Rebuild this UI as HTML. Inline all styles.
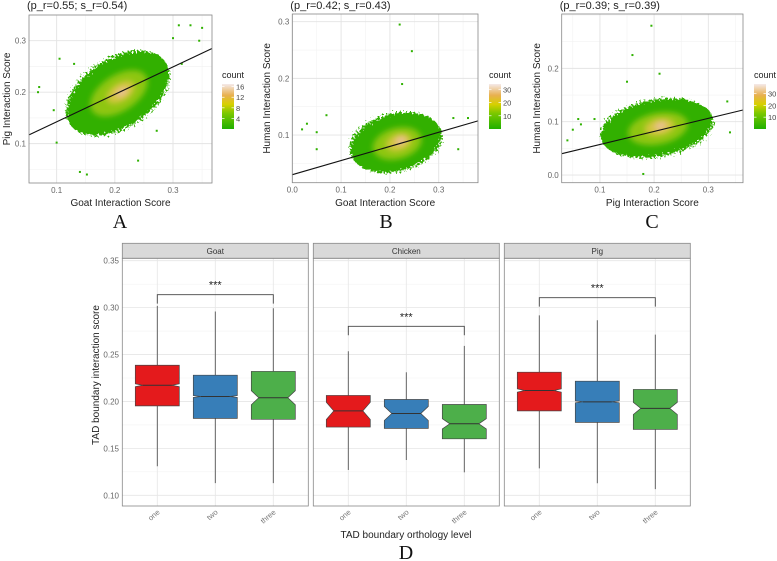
<!DOCTYPE html>
<html><head><meta charset="utf-8"><style>
body{margin:0;background:#fff;}
svg{display:block;font-family:"Liberation Sans",sans-serif;}
</style></head><body>
<svg id="fig" width="777" height="561" viewBox="0 0 777 561" xmlns="http://www.w3.org/2000/svg"></svg>
<script>
// ---------- scatter data ----------
const scatterTitles = ["(p_r=0.55; s_r=0.54)","(p_r=0.42; s_r=0.43)","(p_r=0.39; s_r=0.39)"];
const scatterXLabels = ["Goat Interaction Score","Goat Interaction Score","Pig Interaction Score"];
const scatterYLabels = ["Pig Interaction Score","Human Interaction Score","Human Interaction Score"];
const panelLetters = ["A","B","C"];
const xTicksA = [0.1,0.2,0.3], yTicksA = [0.1,0.2,0.3];
const xTicksB = [0.0,0.1,0.2,0.3], yTicksB = [0.1,0.2,0.3];
const xTicksC = [0.1,0.2,0.3], yTicksC = [0.0,0.1,0.2];
const legendTicksA = [4,8,12,16], legendTicksB = [10,20,30], legendTicksC = [10,20,30];
// density layers: center x, center y, major vector (dx,dy), minor vector (dx,dy)
const cloudA = [[0.205,0.198,0.08,0.064,-0.038,0.052],[0.207,0.198,0.045,0.036,-0.02,0.027],[0.21,0.2,0.022,0.018,-0.01,0.013],[0.212,0.2,0.01,0.008,-0.005,0.006]];
const cloudB = [[0.212,0.087,0.094,0.012,0,0.052],[0.215,0.085,0.05,0.007,0,0.028],[0.218,0.087,0.026,0.004,0,0.015],[0.222,0.09,0.012,0.002,0,0.008]];
const cloudC = [[0.205,0.088,0.104,0.014,0,0.054],[0.207,0.087,0.055,0.008,0,0.03],[0.21,0.09,0.028,0.004,0,0.016],[0.212,0.092,0.012,0.002,0,0.008]];
const outX_A = [0.07,0.068,0.095,0.1,0.105,0.13,0.14,0.152,0.24,0.272,0.31,0.315,0.33,0.35,0.345,0.3];
const outY_A = [0.21,0.2,0.165,0.102,0.265,0.255,0.045,0.04,0.067,0.125,0.33,0.255,0.33,0.325,0.3,0.305];
const outX_B = [0.02,0.03,0.05,0.07,0.05,0.22,0.245,0.225,0.36,0.34,0.33];
const outY_B = [0.11,0.12,0.075,0.135,0.105,0.295,0.248,0.19,0.13,0.075,0.13];
const outX_C = [0.04,0.05,0.06,0.065,0.09,0.195,0.16,0.15,0.21,0.335,0.34,0.18];
const outY_C = [0.065,0.085,0.105,0.095,0.105,0.28,0.225,0.175,0.19,0.138,0.08,0.002];
const lineA = [0.0525,0.117,0.367,0.285];
const lineB = [0.0,0.03,0.3805,0.125];
const lineC = [0.0295,0.04,0.364,0.122];

// ---------- boxplot data ----------
const facets = ["Goat","Chicken","Pig"];
const levels = ["one","two","three"];
const boxColors = ["#e41a1c","#377eb8","#4daf4a"];
const boxLow  = [[0.131,0.113,0.113],[0.127,0.1376,0.1245],[0.1287,0.1128,0.1066]];
const boxQ1   = [[0.1953,0.182,0.181],[0.1727,0.1713,0.1602],[0.19,0.1777,0.1702]];
const boxMed  = [[0.2173,0.2053,0.204],[0.19,0.1872,0.1762],[0.2117,0.1996,0.1926]];
const boxQ3   = [[0.2386,0.228,0.232],[0.2064,0.2021,0.1968],[0.2312,0.2216,0.2128]];
const boxHigh = [[0.3018,0.2958,0.2993],[0.2535,0.2311,0.2592],[0.2918,0.2865,0.2712]];
const notchHalf = [[0.0015,0.001,0.0075],[0.0092,0.0075,0.0055],[0.0018,0.001,0.0065]];
const bracketY = [0.3138,0.2801,0.3106];
const yTicksD = [0.10,0.15,0.20,0.25,0.30,0.35];

const svg = document.getElementById('fig');
const NS = "http://www.w3.org/2000/svg";
function mk(tag, attrs, parent){
  const e = document.createElementNS(NS, tag);
  for (const k in attrs) e.setAttribute(k, attrs[k]);
  (parent||svg).appendChild(e);
  return e;
}
function txt(s, attrs, parent){ const t = mk('text', attrs, parent); t.textContent = s; return t; }
function lin(d0,d1,r0,r1){ return v => r0 + (v-d0)/(d1-d0)*(r1-r0); }

function scatterPanel(cfg){
  const g = mk('g', {});
  
  
  const X = lin(cfg.xd[0], cfg.xd[1], cfg.l, cfg.r);
  const Y = lin(cfg.yd[0], cfg.yd[1], cfg.b, cfg.t);
  mk('rect', {x:cfg.l, y:cfg.t, width:cfg.r-cfg.l, height:cfg.b-cfg.t, fill:'#fff'}, g);
  const step = 0.05;
  for (let v = Math.ceil(cfg.xd[0]/step)*step; v <= cfg.xd[1]; v += step)
    mk('line', {x1:X(v), x2:X(v), y1:cfg.t, y2:cfg.b, stroke:'#f2f2f2', 'stroke-width':0.6}, g);
  for (let v = Math.ceil(cfg.yd[0]/step)*step; v <= cfg.yd[1]; v += step)
    mk('line', {x1:cfg.l, x2:cfg.r, y1:Y(v), y2:Y(v), stroke:'#f2f2f2', 'stroke-width':0.6}, g);
  cfg.xt.forEach(v => {
    mk('line', {x1:X(v), x2:X(v), y1:cfg.t, y2:cfg.b, stroke:'#e4e4e4', 'stroke-width':0.9}, g);
    const t = txt(v.toFixed(1), {x:X(v), y:cfg.b+10, 'font-size':8, fill:'#666', 'text-anchor':'middle'}, g);
    
    
  });
  cfg.yt.forEach(v => {
    mk('line', {x1:cfg.l, x2:cfg.r, y1:Y(v), y2:Y(v), stroke:'#e4e4e4', 'stroke-width':0.9}, g);
    const t = txt(v.toFixed(1), {x:cfg.l-3, y:Y(v)+3, 'font-size':8, fill:'#666', 'text-anchor':'end'}, g);
    
    
  });
  const fills = ['#33b000','#a6cc14','#e2c64a','#efc0a8'];
  const filters = ['url(#rough)','url(#soft)','url(#soft)','url(#soft)'];
  cfg.cloud.forEach((c, i) => {
    let pts = [];
    for (let k = 0; k < 48; k++){
      const a = k/48*2*Math.PI;
      const dx = c[0] + c[2]*Math.cos(a) + c[4]*Math.sin(a);
      const dy = c[1] + c[3]*Math.cos(a) + c[5]*Math.sin(a);
      pts.push(X(dx).toFixed(1)+','+Y(dy).toFixed(1));
    }
    const p = mk('polygon', {points:pts.join(' '), fill:fills[i], opacity: i===0?1:0.8, filter:filters[i]}, g);
    
    
  });
  cfg.ox.forEach((vx, i) => {
    const d = mk('rect', {x:X(vx)-1, y:Y(cfg.oy[i])-1, width:2, height:2, fill:'#2fb100'}, g);
    
    
  });
  const ln = mk('line', {x1:X(cfg.line[0]), y1:Y(cfg.line[1]), x2:X(cfg.line[2]), y2:Y(cfg.line[3]), stroke:'#111', 'stroke-width':1.1}, g);
  
  
  mk('rect', {x:cfg.l, y:cfg.t, width:cfg.r-cfg.l, height:cfg.b-cfg.t, fill:'none', stroke:'#888', 'stroke-width':0.8}, g);
  const ti = txt(cfg.title, {x:cfg.l-2, y:9, 'font-size':11, fill:'#222'}, g);
  
  
  const xl = txt(cfg.xl, {x:(cfg.l+cfg.r)/2, y:206, 'font-size':10, fill:'#222', 'text-anchor':'middle'}, g);
  
  
  const yl = txt(cfg.yl, {x:0, y:0, 'font-size':10, fill:'#222', 'text-anchor':'middle', transform:`translate(${cfg.yx},${(cfg.t+cfg.b)/2}) rotate(-90)`}, g);
  
  
  const le = txt(cfg.letter, {x:cfg.lx, y:228, 'font-size':20, fill:'#111', 'text-anchor':'middle', 'font-family':'Liberation Serif, serif'}, g);
  
  
  const lg = mk('g', {}, g);
  
  
  txt('count', {x:cfg.lgx, y:cfg.lgy, 'font-size':9, fill:'#222'}, lg);
  const top = cfg.lgy+6, h = 45, w = 12;
  mk('rect', {x:cfg.lgx, y:top, width:w, height:h, fill:'url(#cbar)'}, lg);
  const C = lin(0, cfg.lmax, top+h, top);
  cfg.lt.forEach(v => {
    mk('line', {x1:cfg.lgx, x2:cfg.lgx+2.5, y1:C(v), y2:C(v), stroke:'#fff', 'stroke-width':0.7}, lg);
    mk('line', {x1:cfg.lgx+w-2.5, x2:cfg.lgx+w, y1:C(v), y2:C(v), stroke:'#fff', 'stroke-width':0.7}, lg);
    txt(String(v), {x:cfg.lgx+w+2, y:C(v)+3, 'font-size':7.5, fill:'#444'}, lg);
  });
}

const defs = mk('defs', {});
defs.innerHTML = '<linearGradient id="cbar" x1="0" y1="1" x2="0" y2="0"><stop offset="0" stop-color="#20b000"/><stop offset="0.35" stop-color="#7cc800"/><stop offset="0.55" stop-color="#d8d000"/><stop offset="0.75" stop-color="#e8b050"/><stop offset="1" stop-color="#f5eaea"/></linearGradient>' +
  '<filter id="rough" x="-20%" y="-20%" width="140%" height="140%"><feTurbulence type="fractalNoise" baseFrequency="0.5" numOctaves="2" seed="3" result="n"/><feDisplacementMap in="SourceGraphic" in2="n" scale="10"/></filter>' +
  '<filter id="soft" x="-50%" y="-50%" width="200%" height="200%"><feGaussianBlur stdDeviation="3"/></filter>';

scatterPanel({letter:'A', l:29, r:212, t:15, b:183, xd:[0.0525,0.367], yd:[0.0235,0.35], xt:xTicksA, yt:yTicksA, cloud:cloudA, ox:outX_A, oy:outY_A, line:lineA, title:scatterTitles[0], xl:scatterXLabels[0], yl:scatterYLabels[0], yx:10, lx:120, lgx:222, lgy:78, lt:legendTicksA, lmax:17});
scatterPanel({letter:'B', l:292.3, r:478, t:14, b:182.7, xd:[0.0,0.3805], yd:[0.0159,0.3136], xt:xTicksB, yt:yTicksB, cloud:cloudB, ox:outX_B, oy:outY_B, line:lineB, title:scatterTitles[1], xl:scatterXLabels[1], yl:scatterYLabels[1], yx:270, lx:386, lgx:489, lgy:78, lt:legendTicksB, lmax:34});
scatterPanel({letter:'C', l:561.7, r:743, t:14, b:182.7, xd:[0.0295,0.364], yd:[-0.0144,0.302], xt:xTicksC, yt:yTicksC, cloud:cloudC, ox:outX_C, oy:outY_C, line:lineC, title:scatterTitles[2], xl:scatterXLabels[2], yl:scatterYLabels[2], yx:540, lx:652, lgx:754, lgy:78, lt:legendTicksC, lmax:38});

// ---------- boxplot panel D ----------
const D = mk('g', {});


const panelL = [122.3, 313.3, 504.3], panelW = 186;
const stripT = 243.3, plotT = 258.3, plotB = 506;
const YD = lin(0.10, 0.35, 495.3, 260.7);
const catOff = [35, 93, 151];
const bw = 44;
facets.forEach((f, fi) => {
  const L = panelL[fi];
  const fg = mk('g', {}, D);
  
  
  mk('rect', {x:L, y:plotT, width:panelW, height:plotB-plotT, fill:'#fff'}, fg);
  for (let v = 0.125; v < 0.35; v += 0.05)
    mk('line', {x1:L, x2:L+panelW, y1:YD(v), y2:YD(v), stroke:'#f3f3f3', 'stroke-width':0.6}, fg);
  yTicksD.forEach(v => mk('line', {x1:L, x2:L+panelW, y1:YD(v), y2:YD(v), stroke:'#e6e6e6', 'stroke-width':0.8}, fg));
  catOff.forEach(o => mk('line', {x1:L+o, x2:L+o, y1:plotT, y2:plotB, stroke:'#e6e6e6', 'stroke-width':0.8}, fg));
  const st = mk('rect', {x:L, y:stripT, width:panelW, height:plotT-stripT, fill:'#d9d9d9', stroke:'#888', 'stroke-width':0.8}, fg);
  
  
  txt(f, {x:L+panelW/2, y:stripT+10.5, 'font-size':8, fill:'#333', 'text-anchor':'middle'}, fg);
  levels.forEach((lv, li) => {
    const cx = L + catOff[li];
    const bx = mk('g', {}, fg);
    
    
    mk('line', {x1:cx, x2:cx, y1:YD(boxLow[fi][li]), y2:YD(boxHigh[fi][li]), stroke:'#555', 'stroke-width':0.9}, bx);
    const x0 = cx-bw/2, x1 = cx+bw/2, ni = bw*0.17;
    const q1 = YD(boxQ1[fi][li]), q3 = YD(boxQ3[fi][li]), m = YD(boxMed[fi][li]);
    const nt = YD(boxMed[fi][li]+notchHalf[fi][li]), nb = YD(boxMed[fi][li]-notchHalf[fi][li]);
    const pts = [[x0,q3],[x1,q3],[x1,nt],[x1-ni,m],[x1,nb],[x1,q1],[x0,q1],[x0,nb],[x0+ni,m],[x0,nt]];
    mk('polygon', {points:pts.map(p=>p.join(',')).join(' '), fill:boxColors[li], stroke:'#444', 'stroke-width':0.7}, bx);
    mk('line', {x1:x0+ni, x2:x1-ni, y1:m, y2:m, stroke:'#333', 'stroke-width':1}, bx);
    const tl = txt(lv, {x:0, y:0, 'font-size':7.5, fill:'#777', 'text-anchor':'end', transform:`translate(${cx+3},${plotB+7}) rotate(-40)`}, fg);
    
    
  });
  const by = YD(bracketY[fi]);
  const br = mk('path', {d:`M${L+catOff[0]},${by+9} V${by} H${L+catOff[2]} V${by+9}`, fill:'none', stroke:'#444', 'stroke-width':0.9}, fg);
  
  
  const sg = txt('***', {x:L+catOff[1], y:by-6, 'font-size':11, fill:'#222', 'text-anchor':'middle'}, fg);
  
  
  mk('rect', {x:L, y:plotT, width:panelW, height:plotB-plotT, fill:'none', stroke:'#888', 'stroke-width':0.8}, fg);
});
yTicksD.forEach(v => {
  const t = txt(v.toFixed(2), {x:119, y:YD(v)+3, 'font-size':8, fill:'#666', 'text-anchor':'end'}, D);
  
  
});
const dyt = txt('TAD boundary interaction score', {x:0, y:0, 'font-size':10, fill:'#222', 'text-anchor':'middle', transform:'translate(99,375) rotate(-90)'}, D);


const dxt = txt('TAD boundary orthology level', {x:406, y:538, 'font-size':10, fill:'#222', 'text-anchor':'middle'}, D);


const dl = txt('D', {x:406, y:559, 'font-size':20, fill:'#111', 'text-anchor':'middle', 'font-family':'Liberation Serif, serif'}, D);


</script>
</body></html>
